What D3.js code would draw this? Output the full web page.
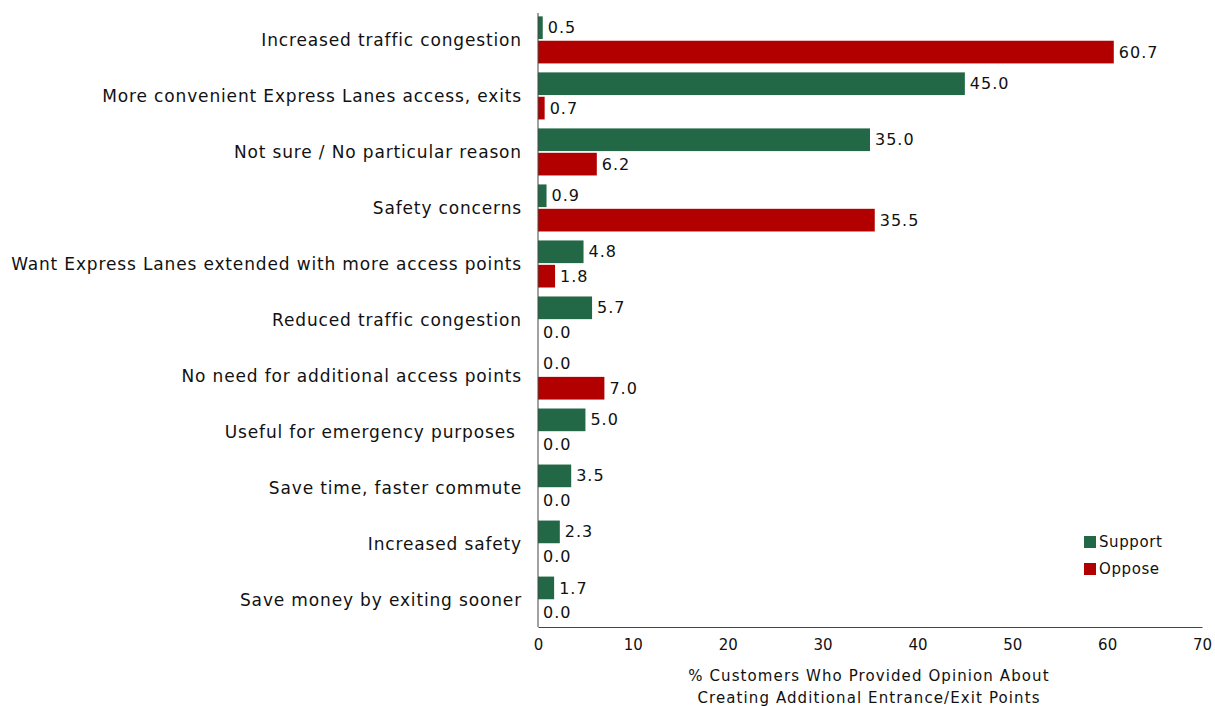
<!DOCTYPE html>
<html><head><meta charset="utf-8">
<script src="https://cdn.jsdelivr.net/npm/d3@7"></script>
<style>
html,body{margin:0;padding:0;background:#fff;}
text{font-family:"DejaVu Sans",sans-serif;fill:#111;}
</style></head>
<body><svg id="c" width="1215" height="706"></svg>
<script>
const categories = [
  "Increased traffic congestion",
  "More convenient Express Lanes access, exits",
  "Not sure / No particular reason",
  "Safety concerns",
  "Want Express Lanes extended with more access points",
  "Reduced traffic congestion",
  "No need for additional access points",
  "Useful for emergency purposes ",
  "Save time, faster commute",
  "Increased safety",
  "Save money by exiting sooner"
];
const supportValues = [0.5, 45.0, 35.0, 0.9, 4.8, 5.7, 0.0, 5.0, 3.5, 2.3, 1.7];
const opposeValues  = [60.7, 0.7, 6.2, 35.5, 1.8, 0.0, 7.0, 0.0, 0.0, 0.0, 0.0];
const seriesNames = ["Support", "Oppose"];
const seriesColors = ["#236846", "#b20000"];
const xTicks = [0, 10, 20, 30, 40, 50, 60, 70];
const axisTitle = ["% Customers Who Provided Opinion About", "Creating Additional Entrance/Exit Points"];

(function () {
const svg = d3.select("#c");
const pL = 538, pR = 1202, pT = 13, pB = 627;
const x = d3.scaleLinear().domain([0, 70]).range([pL, pR]);
const y = d3.scaleBand().domain(categories).range([pT, pB]).paddingInner(0.16).paddingOuter(0.06);
const sub = d3.scaleBand().domain(seriesNames).range([0, y.bandwidth()]).paddingInner(0.07);

const data = categories.map((c, i) => ({c, vals: [supportValues[i], opposeValues[i]]}));

const g = svg.selectAll("g.grp").data(data).join("g").attr("class", "grp")
  .attr("transform", d => `translate(0,${y(d.c)})`);

seriesNames.forEach((s, si) => {
  g.append("rect")
    .attr("x", x(0))
    .attr("y", sub(s))
    .attr("width", d => x(d.vals[si]) - x(0))
    .attr("height", sub.bandwidth())
    .attr("fill", seriesColors[si]);
  g.append("text")
    .attr("x", d => x(d.vals[si]) + 5)
    .attr("y", sub(s) + sub.bandwidth() / 2)
    .attr("dy", "0.35em")
    .attr("font-size", 16)
    .style("letter-spacing", "1px")
    .text(d => d.vals[si].toFixed(1));
});

svg.selectAll("text.cat").data(categories).join("text").attr("class", "cat")
  .attr("x", 522).attr("y", d => y(d) + y.bandwidth() / 2)
  .attr("dy", "0.35em").attr("text-anchor", "end")
  .attr("font-size", 17).style("letter-spacing", "0.85px").style("white-space", "pre")
  .text(d => d);

const xAxis = d3.axisBottom(x).tickValues(xTicks).tickSize(0).tickPadding(12).tickFormat(d3.format("d"));
const ax = svg.append("g").attr("transform", `translate(0,${pB})`).call(xAxis);
ax.select(".domain").attr("stroke", "#444");
ax.selectAll("text").attr("font-size", 15).attr("font-family", "DejaVu Sans").attr("fill", "#111");
svg.append("line").attr("x1", pL).attr("x2", pL).attr("y1", pT).attr("y2", pB).attr("stroke", "#444");

svg.selectAll("text.title").data(axisTitle).join("text").attr("class", "title")
  .attr("x", 869).attr("y", (d, i) => 681 + i * 22)
  .attr("text-anchor", "middle").attr("font-size", 15).style("letter-spacing", "1.1px").text(d => d);

const lg = svg.selectAll("g.leg").data(seriesNames).join("g").attr("class", "leg")
  .attr("transform", (d, i) => `translate(1084,${536 + i * 27})`);
lg.append("rect").attr("width", 12).attr("height", 12).attr("fill", (d, i) => seriesColors[i]);
lg.append("text").attr("x", 15).attr("y", 6).attr("dy", "0.35em").attr("font-size", 15).style("letter-spacing", "0.6px").text(d => d);
})();
</script></body></html>
